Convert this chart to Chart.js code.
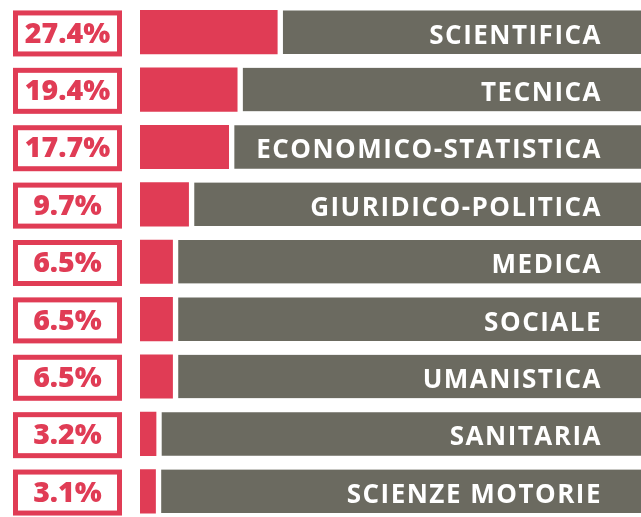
<!DOCTYPE html>
<html><head><meta charset="utf-8">
<script src="https://cdn.jsdelivr.net/npm/chart.js@4"></script>
<style>html,body{margin:0;padding:0;background:#fff;overflow:hidden}#wrap{width:641px;height:520px}</style>
</head><body><div id="wrap"><canvas id="c" width="641" height="520"></canvas></div>
<script>
const categories = ['SCIENTIFICA','TECNICA','ECONOMICO-STATISTICA','GIURIDICO-POLITICA','MEDICA','SOCIALE','UMANISTICA','SANITARIA','SCIENZE MOTORIE'];
const values = [27.4, 19.4, 17.7, 9.7, 6.5, 6.5, 6.5, 3.2, 3.1];
const totals = [100, 100, 100, 100, 100, 100, 100, 100, 100];
const percentLabels = ['27.4%','19.4%','17.7%','9.7%','6.5%','6.5%','6.5%','3.2%','3.1%'];

const RED = '#E03C55';
const GRAY = '#6B6A60';

const boxesAndLabels = {
  id: 'boxesAndLabels',
  afterDatasetsDraw(chart) {
    const ctx = chart.ctx;
    const meta = chart.getDatasetMeta(0);
    const area = chart.chartArea;
    ctx.save();
    meta.data.forEach((bar, i) => {
      const top = bar.y - bar.height / 2;
      // percent box
      ctx.strokeStyle = RED;
      ctx.lineWidth = 5;
      ctx.strokeRect(13 + 2.5, top + 2.5, 109 - 5, 46 - 5);
      ctx.fillStyle = RED;
      ctx.font = '800 28.5px "Open Sans"';
      ctx.letterSpacing = '0px';
      ctx.textAlign = 'center';
      ctx.textBaseline = 'alphabetic';
      ctx.fillText(percentLabels[i], 67.5, bar.y + 10.5);
      // category label
      ctx.fillStyle = '#FFFFFF';
      ctx.font = '700 26px "Open Sans"';
      ctx.letterSpacing = '1.5px';
      ctx.textAlign = 'right';
      ctx.fillText(categories[i], area.right - 39, bar.y + 11.5);
    });
    ctx.restore();
  }
};

new Chart(document.getElementById('c'), {
  type: 'bar',
  data: {
    labels: categories,
    datasets: [
      {
        data: values,
        backgroundColor: RED,
        borderWidth: 0,
        barThickness: 43.5,
        grouped: false,
        order: 1
      },
      {
        data: values.map((v, i) => [v, totals[i]]),
        backgroundColor: GRAY,
        borderColor: '#FFFFFF',
        borderWidth: {left: 6, right: 0, top: 0, bottom: 0},
        borderSkipped: false,
        barThickness: 43.5,
        grouped: false,
        order: 2
      }
    ]
  },
  options: {
    indexAxis: 'y',
    responsive: false,
    animation: false,
    devicePixelRatio: 1,
    layout: {padding: {left: 140, right: 0, top: 3.5, bottom: 0}},
    plugins: {legend: {display: false}, tooltip: {enabled: false}},
    scales: {
      x: {display: false, min: 0, max: 100, grid: {display: false}},
      y: {display: false, grid: {display: false}}
    }
  },
  plugins: [boxesAndLabels]
});
</script>
</body></html>
